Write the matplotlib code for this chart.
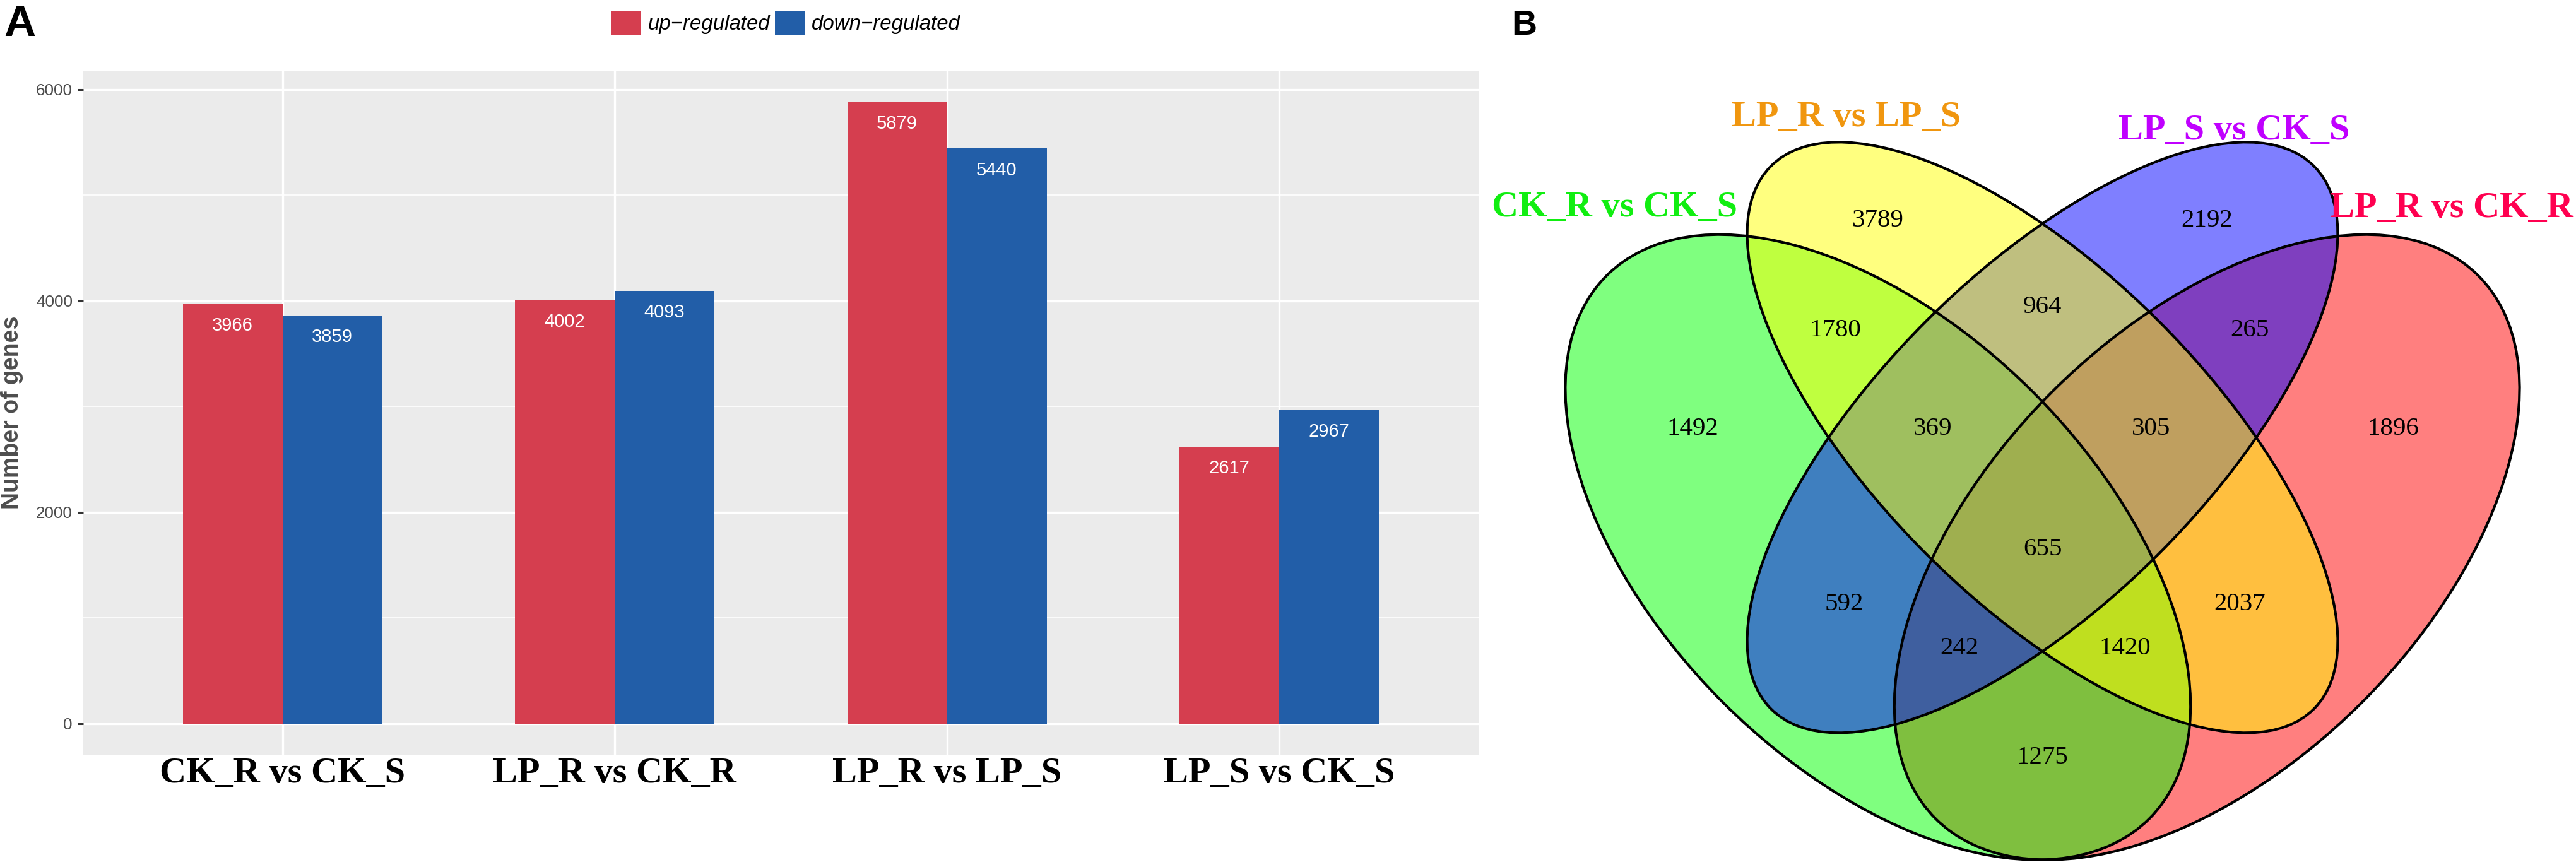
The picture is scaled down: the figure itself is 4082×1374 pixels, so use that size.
import matplotlib
matplotlib.use("Agg")
import matplotlib.pyplot as plt
import matplotlib.transforms as mtransforms
from matplotlib.patches import Patch, Ellipse

# ---- data: panel A ----
comparisons = ["CK_R vs CK_S", "LP_R vs CK_R", "LP_R vs LP_S", "LP_S vs CK_S"]
up_regulated = [3966, 4002, 5879, 2617]
down_regulated = [3859, 4093, 5440, 2967]
y_ticks = [0, 2000, 4000, 6000]

# ---- data: panel B (4-set Venn) ----
venn_sets = ["CK_R vs CK_S", "LP_R vs LP_S", "LP_S vs CK_S", "LP_R vs CK_R"]
venn_counts = [3789, 2192, 1780, 964, 265, 1492, 369, 305, 1896,
               655, 592, 2037, 242, 1420, 1275]

RED = "#D53E4F"
BLUE = "#225EA8"

W, H = 4082, 1374
fig = plt.figure(figsize=(W / 100, H / 100), dpi=100)

# ================= panel A =================
ax = fig.add_axes([131.6 / W, 1 - 1196 / H, (2343 - 131.6) / W, (1196 - 112.7) / H])
ax.set_facecolor("#EBEBEB")
x = list(range(1, len(comparisons) + 1))
bw = 0.3
xr = [i - bw / 2 for i in x]
xb = [i + bw / 2 for i in x]
ax.bar(xr, up_regulated, width=bw, color=RED, zorder=3)
ax.bar(xb, down_regulated, width=bw, color=BLUE, zorder=3)

for xi, v in zip(xr, up_regulated):
    ax.annotate(str(v), (xi, v), xytext=(0, -24.5), textcoords="offset points",
                ha="center", va="center", color="white", fontsize=21,
                family="Liberation Sans", zorder=4)
for xi, v in zip(xb, down_regulated):
    ax.annotate(str(v), (xi, v), xytext=(0, -24.5), textcoords="offset points",
                ha="center", va="center", color="white", fontsize=21,
                family="Liberation Sans", zorder=4)

ymax = max(up_regulated + down_regulated)
ax.set_ylim(-0.05 * ymax, 1.05 * ymax)
ax.set_xlim(0.4, len(comparisons) + 0.6)
ax.set_yticks(y_ticks)
ax.set_yticks([1000, 3000, 5000], minor=True)
ax.set_xticks(x)
ax.set_xticklabels(comparisons, family="Liberation Serif", fontweight="bold",
                   fontsize=42, color="black")
# the original labels sit a little off-centre
for lab, dx in zip(ax.get_xticklabels(), [-38, -7, -17, 15]):
    lab.set_transform(lab.get_transform() +
                      mtransforms.ScaledTranslation(dx / 100, 0, fig.dpi_scale_trans))
for lab in ax.get_yticklabels():
    lab.set_family("Liberation Sans")
ax.tick_params(axis="y", which="major", length=6.5, width=2.2, color="#333333",
               labelsize=18.7, labelcolor="#4D4D4D", pad=5.5)
ax.tick_params(axis="y", which="minor", length=0)
ax.tick_params(axis="x", length=0, pad=3)
ax.grid(True, which="major", color="white", linewidth=2.4, zorder=0)
ax.grid(True, which="minor", axis="y", color="white", linewidth=1.2, zorder=0)
ax.set_axisbelow(True)
for s in ax.spines.values():
    s.set_visible(False)

fig.text(19.5 / W, 1 - 654 / H, "Number of genes", rotation=90, ha="center",
         va="center", fontsize=27, fontweight="bold", color="#4D4D4D",
         family="Liberation Sans")

handles = [Patch(facecolor=RED), Patch(facecolor=BLUE)]
fig.legend(handles, ["up\u2212regulated", "down\u2212regulated"], loc="center",
           bbox_to_anchor=(1245 / W, 1 - 36.5 / H), ncol=2, frameon=False,
           prop={"family": "Liberation Sans", "style": "italic", "size": 23.8},
           handlelength=1.42, handleheight=1.48, handletextpad=0.34,
           columnspacing=0.24, borderpad=0, borderaxespad=0)

fig.text(6 / W, 1 - 57 / H, "A", fontsize=50, fontweight="bold",
         family="Liberation Sans", ha="left", va="baseline")

# ================= panel B =================
bx = fig.add_axes([2350 / W, 0, (W - 2350) / W, 1])
bx.set_xlim(-0.0101, 0.9865)
bx.set_ylim(0.1784, 0.9689)
bx.axis("off")

# ellipse geometry (centre x, centre y, semi-major, semi-minor, angle)
shapes = {
    "CK_R vs CK_S": (0.35, 0.47, 0.35, 0.20, -45, "#00FF00"),
    "LP_R vs LP_S": (0.50, 0.57, 0.35, 0.15, -45, "#FFFF00"),
    "LP_S vs CK_S": (0.50, 0.57, 0.35, 0.15, 45, "#0000FF"),
    "LP_R vs CK_R": (0.65, 0.47, 0.35, 0.20, 45, "#FF0000"),
}
fill_order = ["LP_R vs CK_R", "CK_R vs CK_S", "LP_S vs CK_S", "LP_R vs LP_S"]
for name in fill_order:
    cx, cy, a, b, ang, col = shapes[name]
    bx.add_patch(Ellipse((cx, cy), 2 * a, 2 * b, angle=ang, facecolor=col,
                         alpha=0.5, edgecolor="none"))
for name in venn_sets:
    cx, cy, a, b, ang, col = shapes[name]
    bx.add_patch(Ellipse((cx, cy), 2 * a, 2 * b, angle=ang, fill=False,
                         edgecolor="black", linewidth=3))

count_pos = [(0.35, 0.768), (0.65, 0.768), (0.311, 0.668), (0.50, 0.689),
             (0.689, 0.668), (0.181, 0.578), (0.40, 0.578), (0.599, 0.578),
             (0.82, 0.578), (0.50, 0.468), (0.319, 0.418), (0.68, 0.418),
             (0.424, 0.378), (0.575, 0.378), (0.50, 0.278)]
for (px, py), n in zip(count_pos, venn_counts):
    bx.text(px, py, str(n), ha="center", va="center", fontsize=29.5,
            family="Liberation Serif", color="black")

label_pos = {
    "CK_R vs CK_S": (0.1097, 0.7716, "#11EE11"),
    "LP_R vs LP_S": (0.321, 0.854, "#F0960F"),
    "LP_S vs CK_S": (0.675, 0.842, "#C000FF"),
    "LP_R vs CK_R": (0.873, 0.771, "#FF0050"),
}
for name in venn_sets:
    px, py, col = label_pos[name]
    bx.text(px, py, name, ha="center", va="baseline", fontsize=42,
            fontweight="bold", family="Liberation Serif", color=col)

fig.text(2395 / W, 1 - 55 / H, "B", fontsize=40, fontweight="bold",
         family="Liberation Sans", ha="left", va="baseline")

fig.savefig("out.png", dpi=100)
